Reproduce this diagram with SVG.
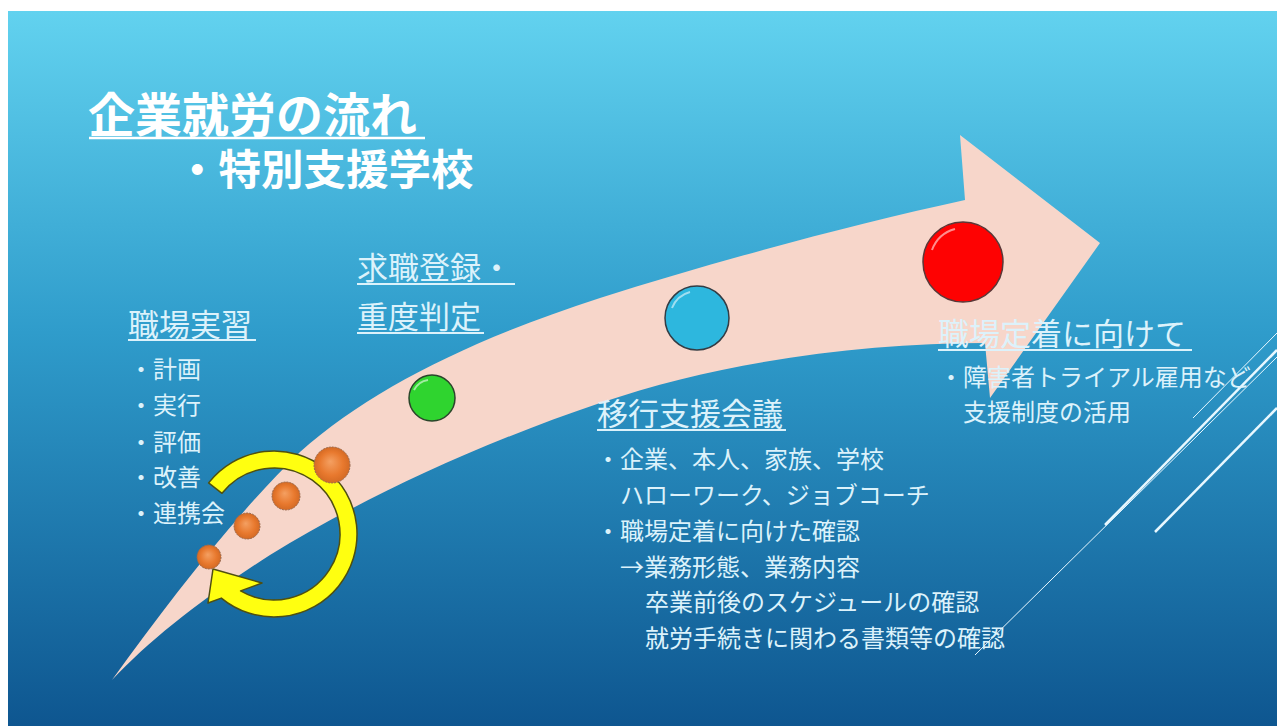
<svg xmlns="http://www.w3.org/2000/svg" width="1277" height="726" viewBox="0 0 1277 726">
<defs>
<linearGradient id="bg" x1="0" y1="0" x2="0" y2="1">
<stop offset="0" stop-color="#62d2ef"/>
<stop offset="0.45" stop-color="#2f9ccb"/>
<stop offset="1" stop-color="#0e5690"/>
</linearGradient>
<radialGradient id="og" cx="0.5" cy="0.5" r="0.5" fx="0.45" fy="0.4">
<stop offset="0" stop-color="#f4a062"/>
<stop offset="0.65" stop-color="#e8792e"/>
<stop offset="1" stop-color="#d46a24"/>
</radialGradient>
<style>
.hd{font-family:"Noto Sans CJK JP","Noto Sans CJK SC",sans-serif;font-size:31px;fill:#dcf2fb}
.tx{font-family:"Noto Sans CJK JP","Noto Sans CJK SC",sans-serif;font-size:24px;fill:#dcf2fb}
.ul{stroke:#dcf2fb;stroke-width:2}
.ttl{font-family:"Noto Sans CJK JP","Noto Sans CJK SC",sans-serif;font-weight:bold;fill:#ffffff}
.ob{fill:url(#og);stroke:#9a6a50;stroke-width:1;stroke-dasharray:2 1}
.dl{stroke:#e8f8ff;fill:none}
.hl{fill:none;stroke:#ffffff;stroke-opacity:0.55;stroke-width:2}
</style>
</defs>
<rect id="background" x="8" y="11" width="1269" height="715" fill="url(#bg)"/>
<g id="deco-lines">
<line class="dl" x1="1193" y1="418" x2="1277" y2="333" stroke-width="1"/>
<line class="dl" x1="1105" y1="525" x2="1277" y2="350" stroke-width="2.5"/>
<line class="dl" x1="975" y1="655" x2="1277" y2="357" stroke-width="1"/>
<line class="dl" x1="1155" y1="532" x2="1277" y2="408" stroke-width="2.5"/>
</g>
<g id="big-arrow">
<path d="M112,680 C170,600 235,515 300,452 C370,390 470,340 600,298 C720,260 850,225 965,200 L960,135 L1100,243 L990,398 L985,343 C860,343 720,362 600,403 C470,447 360,500 270,555 C200,600 150,640 112,680 Z" fill="#f7d6ca"/>
</g>
<g id="cycle-arrow">
<path d="M208.6,482.9 A83,83 0 1 1 221.3,598.1 L208,603 L213,569 L262,583 L240.6,590.9 A66,66 0 1 0 222.0,493.3 Z" fill="#ffff10" stroke="#4f4f10" stroke-width="1.5" stroke-linejoin="round"/>
</g>
<g id="steps">
<circle class="ob" cx="209" cy="557" r="12"/>
<circle class="ob" cx="247" cy="526" r="13"/>
<circle class="ob" cx="286" cy="496" r="14"/>
<circle class="ob" cx="332" cy="465" r="18"/>
<g id="ball-green"><circle cx="432" cy="398" r="23" fill="#2fd42f" stroke="#2b452b" stroke-width="1.5"/><path class="hl" d="M414,390 A19,19 0 0 1 428,380"/></g>
<g id="ball-blue"><circle cx="697" cy="318" r="32" fill="#2db7de" stroke="#333c44" stroke-width="1.5"/><path class="hl" d="M672,308 A27,27 0 0 1 690,292"/></g>
<g id="ball-red"><circle cx="963" cy="262" r="40" fill="#fe0202" stroke="#5a3838" stroke-width="1.5"/><path class="hl" d="M932,250 A34,34 0 0 1 955,229"/></g>
</g>
<g id="title">
<text class="ttl" x="88" y="132" font-size="47">企業就労の流れ</text>
<line x1="89" y1="138" x2="425" y2="138" stroke="#ffffff" stroke-width="2.5"/>
<text class="ttl" x="176" y="185" font-size="42.5">・特別支援学校</text>
</g>
<g id="node-practice">
<text class="hd" x="128" y="336">職場実習</text>
<line class="ul" x1="128" y1="340" x2="256" y2="340"/>
<text class="tx" x="129" y="378">・計画</text>
<text class="tx" x="129" y="414">・実行</text>
<text class="tx" x="129" y="451">・評価</text>
<text class="tx" x="129" y="486">・改善</text>
<text class="tx" x="129" y="522">・連携会</text>
</g>
<g id="node-register">
<text class="hd" x="357" y="279">求職登録・</text>
<line class="ul" x1="357" y1="284" x2="515" y2="284"/>
<text class="hd" x="357" y="328">重度判定</text>
<line class="ul" x1="357" y1="333" x2="484" y2="333"/>
</g>
<g id="node-meeting">
<text class="hd" x="597" y="425">移行支援会議</text>
<line class="ul" x1="597" y1="430" x2="786" y2="430"/>
<text class="tx" x="596" y="468">・企業、本人、家族、学校</text>
<text class="tx" x="620" y="504">ハローワーク、ジョブコーチ</text>
<text class="tx" x="596" y="540">・職場定着に向けた確認</text>
<text class="tx" x="620" y="576">→業務形態、業務内容</text>
<text class="tx" x="645" y="611">卒業前後のスケジュールの確認</text>
<text class="tx" x="645" y="647">就労手続きに関わる書類等の確認</text>
</g>
<g id="node-settle">
<text class="hd" x="938" y="345">職場定着に向けて</text>
<line class="ul" x1="938" y1="350" x2="1192" y2="350"/>
<text class="tx" x="939" y="386">・障害者トライアル雇用など</text>
<text class="tx" x="963" y="421">支援制度の活用</text>
</g>
</svg>
